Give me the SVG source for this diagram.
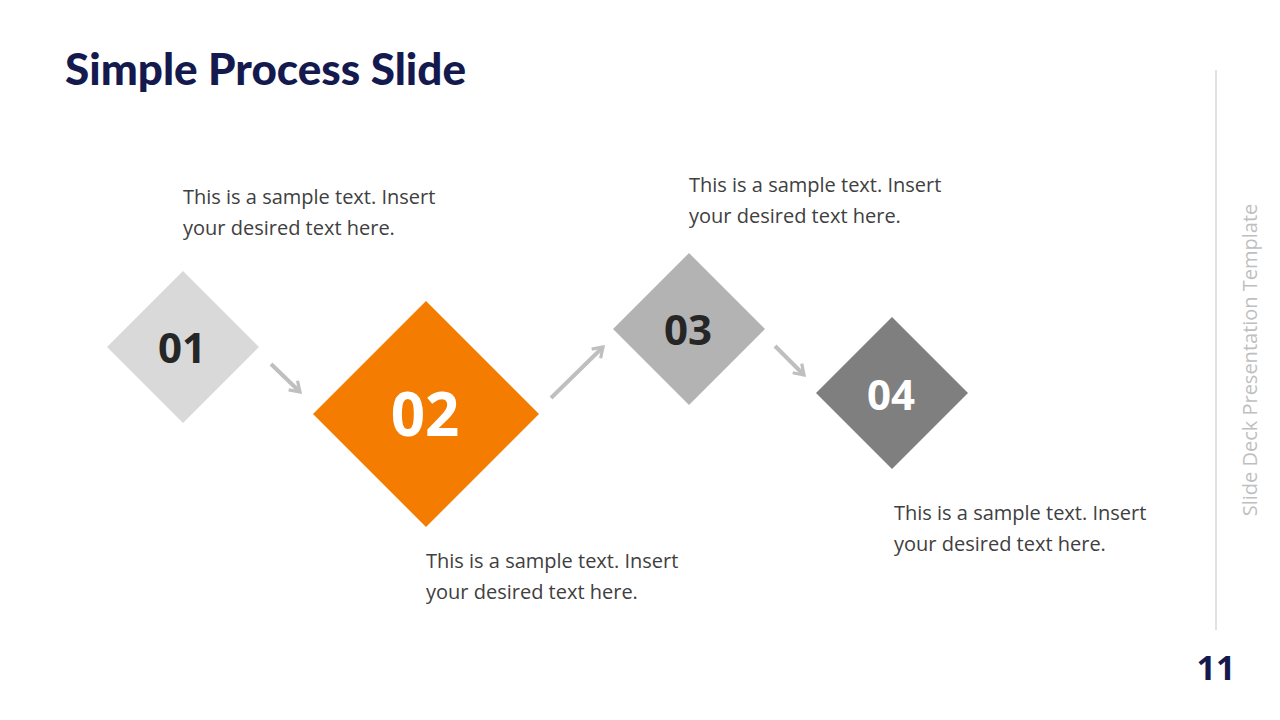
<svg xmlns="http://www.w3.org/2000/svg" width="1280" height="720" viewBox="0 0 1280 720">
<defs>
<style>
.t{font-family:"Open Sans","Noto Sans",sans-serif;font-size:20px;fill:#404040}
.n{font-family:"Open Sans","Noto Sans",sans-serif;font-weight:bold;text-anchor:middle}
.c{stroke:#bfbfbf;stroke-width:4;fill:none;marker-end:url(#ah)}
</style>
<marker id="ah" viewBox="0 0 10 10" refX="7" refY="5" markerWidth="4" markerHeight="4" orient="auto" markerUnits="strokeWidth">
<path d="M1,1 L7,5 L1,9" fill="none" stroke="#bfbfbf" stroke-width="2"/>
</marker>
</defs>
<rect width="1280" height="720" fill="#fff"/>
<text x="65" y="85" font-family="Lato,'Open Sans',sans-serif" font-weight="900" font-size="44" fill="#141a4e">Simple Process Slide</text>
<line x1="1216" y1="70" x2="1216" y2="630" stroke="#d9d9d9" stroke-width="1.5"/>
<text transform="translate(1257,360) rotate(-90)" text-anchor="middle" font-family="'Open Sans',sans-serif" font-size="20" fill="#bfbfbf">Slide Deck Presentation Template</text>
<text x="1216" y="680" text-anchor="middle" font-family="'Open Sans',sans-serif" font-weight="bold" font-size="34" fill="#141a4e">11</text>
<g id="connectors">
<path class="c" d="M271,364 L300,392"/>
<path class="c" d="M551,398 L603,347"/>
<path class="c" d="M775,346 L804,375"/>
</g>
<g id="n1"><polygon points="183,271 259,347 183,423 107,347" fill="#d9d9d9"/><text class="n" x="182" y="363" font-size="42" fill="#262626">01</text>
<text class="t" x="183" y="204">This is a sample text. Insert</text><text class="t" x="183" y="235">your desired text here.</text></g>
<g id="n2"><polygon points="426,301 539,414 426,527 313,414" fill="#f47c00"/><text class="n" x="425" y="436" font-size="60" fill="#fff">02</text>
<text class="t" x="426" y="568">This is a sample text. Insert</text><text class="t" x="426" y="599">your desired text here.</text></g>
<g id="n3"><polygon points="689,253 765,329 689,405 613,329" fill="#b3b3b3"/><text class="n" x="688" y="345" font-size="42" fill="#262626">03</text>
<text class="t" x="689" y="192">This is a sample text. Insert</text><text class="t" x="689" y="223">your desired text here.</text></g>
<g id="n4"><polygon points="892,317 968,393 892,469 816,393" fill="#7f7f7f"/><text class="n" x="891" y="410" font-size="42" fill="#fff">04</text>
<text class="t" x="894" y="520">This is a sample text. Insert</text><text class="t" x="894" y="551">your desired text here.</text></g>
</svg>
